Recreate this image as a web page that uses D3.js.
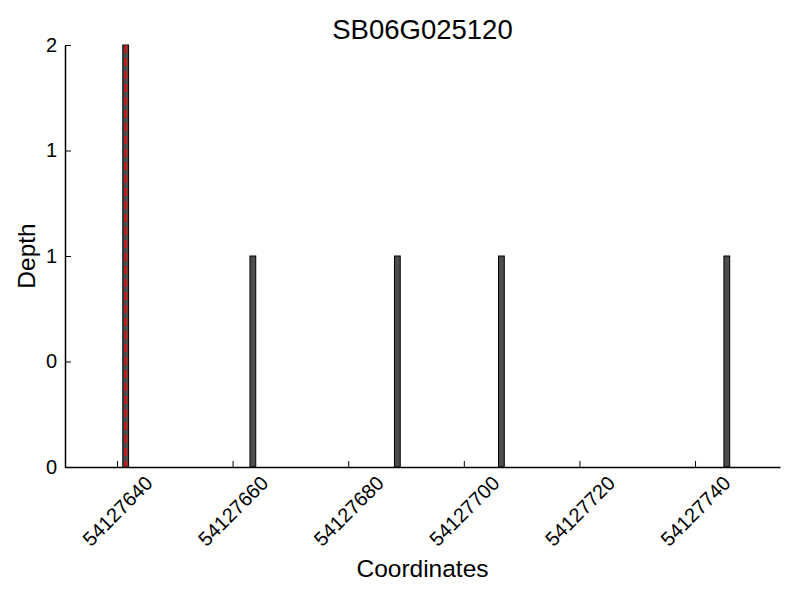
<!DOCTYPE html>
<html>
<head>
<meta charset="utf-8">
<script src="https://d3js.org/d3.v7.min.js"></script>
<style>
  body { margin: 0; background: #fff; }
  text { font-family: "Liberation Sans", Arial, sans-serif; }
</style>
</head>
<body>
<div id="chart"></div>
<script>
// data
var positions = [54127641, 54127663, 54127688, 54127706, 54127745];
var depths = [2, 1, 1, 1, 1];
var markerPos = 54127641.5;
var xTicks = [54127640, 54127660, 54127680, 54127700, 54127720, 54127740];
var yTicks = [0, 0.5, 1, 1.5, 2];
var title = "SB06G025120";

var margin = {top: 45, right: 20, bottom: 133, left: 65},
    width = 800 - margin.left - margin.right,
    height = 600 - margin.top - margin.bottom;

var svg = d3.select("#chart").append("svg")
    .attr("width", 800)
    .attr("height", 600)
  .append("g")
    .attr("transform", "translate(" + margin.left + "," + margin.top + ")");

var x = d3.scaleLinear()
    .domain([54127631, 54127754.7])
    .range([0, width]);

var y = d3.scaleLinear()
    .domain([0, 2])
    .range([height, 0]);

// bars
svg.selectAll(".bar")
  .data(positions)
  .enter().append("rect")
    .attr("class", "bar")
    .attr("x", function(d) { return x(d); })
    .attr("width", function(d) { return x(d + 1) - x(d); })
    .attr("y", function(d, i) { return y(depths[i]); })
    .attr("height", function(d, i) { return y(0) - y(depths[i]); })
    .style("fill", "#4d4d4d")
    .style("stroke", "#000")
    .style("stroke-width", 1);

// marker line
svg.append("line")
    .attr("x1", x(markerPos)).attr("x2", x(markerPos))
    .attr("y1", y(2)).attr("y2", y(0))
    .style("stroke", "#ff0000")
    .style("stroke-width", 2)
    .style("stroke-dasharray", "8,5");

// x axis
var xAxis = svg.append("g")
    .attr("transform", "translate(0," + height + ")")
    .call(d3.axisBottom(x).tickValues(xTicks).tickSize(-6).tickSizeOuter(0).tickFormat(d3.format("d")));
xAxis.select(".domain").style("stroke-width", 1.5);
xAxis.selectAll("text")
    .style("font-size", "20px")
    .attr("y", 0).attr("dy", "0.35em")
    .attr("text-anchor", "middle")
    .attr("transform", "translate(0,44) rotate(-45)");

// y axis
var yAxis = svg.append("g")
    .call(d3.axisLeft(y).tickValues(yTicks).tickSize(-6).tickSizeOuter(0)
      .tickFormat(function(d) { return Math.floor(d); }));
yAxis.select(".domain").style("stroke-width", 1.5);
yAxis.selectAll("text")
    .style("font-size", "20px")
    .attr("x", -8);

// title and labels
svg.append("text")
    .attr("x", width / 2)
    .attr("y", -6)
    .attr("text-anchor", "middle")
    .style("font-size", "27.5px")
    .text(title);

svg.append("text")
    .attr("x", width / 2)
    .attr("y", 532)
    .attr("text-anchor", "middle")
    .style("font-size", "24.5px")
    .text("Coordinates");

svg.append("text")
    .attr("transform", "translate(-30," + (height / 2) + ") rotate(-90)")
    .attr("text-anchor", "middle")
    .style("font-size", "24.5px")
    .text("Depth");
</script>
</body>
</html>
